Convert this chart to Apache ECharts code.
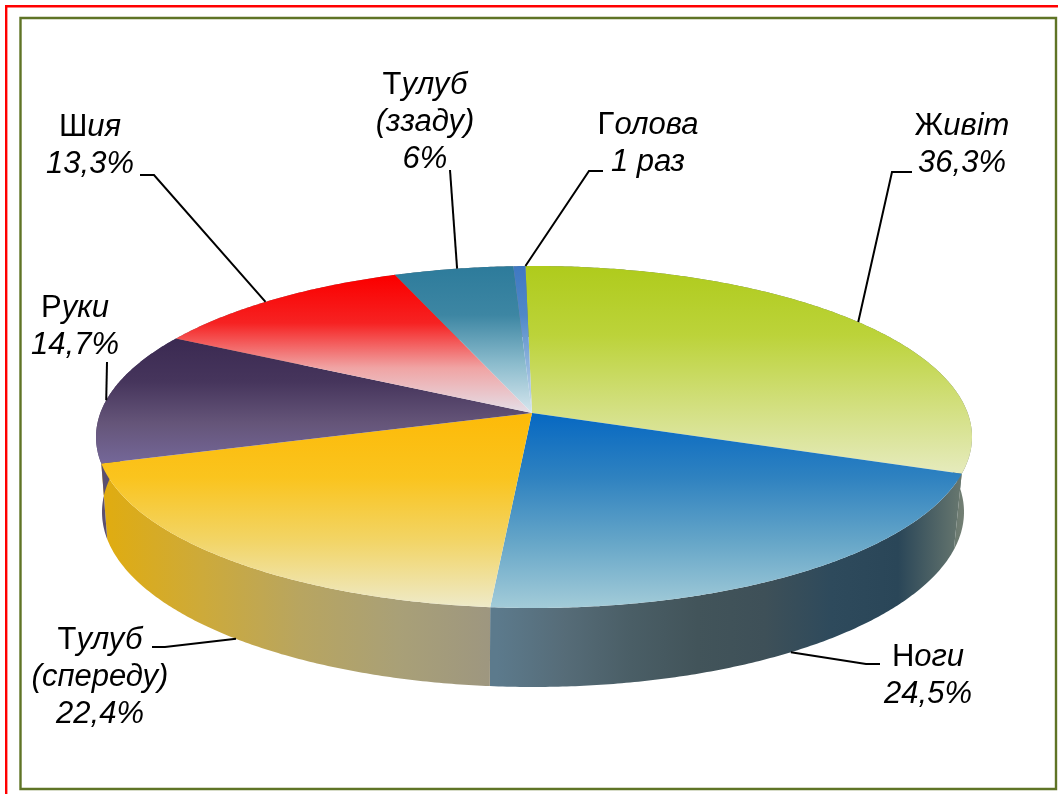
<!DOCTYPE html>
<html><head><meta charset="utf-8">
<style>html,body{margin:0;padding:0;background:#fff}#c{width:1058px;height:794px}</style>
<script src="https://cdn.jsdelivr.net/npm/echarts@6/dist/echarts.min.js"></script>
</head><body><div id="c"></div>
<script>
const categories = ['Живіт','Ноги','Тулуб (спереду)','Руки','Шия','Тулуб (ззаду)','Голова'];
const values = [36.3,24.5,22.4,14.7,13.3,6,0.6];
const labelLines = [
  ['{u|Ж}{i|ивіт}','{i|36,3%}'],
  ['{u|Н}{i|оги}','{i|24,5%}'],
  ['{u|Т}{i|улуб}','{i|(спереду)}','{i|22,4%}'],
  ['{u|Р}{i|уки}','{i|14,7%}'],
  ['{u|Ш}{i|ия}','{i|13,3%}'],
  ['{u|Т}{i|улуб}','{i|(ззаду)}','{i|6%}'],
  ['{u|Г}{i|олова}','{i|1 раз}']
];
const topColors = [
  ['#afcb1c','#bcd33a','#d2df7e','#e6ebbe'],
  ['#0668c2','#2f82c0','#66a6c8','#a2cbd8'],
  ['#fdba08','#fac41e','#f2d568','#eeeac8'],
  ['#3b2a52','#46355c','#655579','#75689a'],
  ['#fb0000','#f62222','#f0a4a4','#e4dfe8'],
  ['#2d7b9b','#3d86a3','#8cbccd','#d6e6ee'],
  ['#3f78c2','#4f88c8','#8fb4dc','#d0e0ee']
];
const wallColors = [
  ['#6b7a70','#7d8578'],
  ['#5c7a8c','#566c78','#4a5e66','#42545a','#3e5058','#2e4a5c','#2a4658','#6b7a70'],
  ['#e0ac10','#cdaa3a','#b8a560','#a9a077','#9d9680'],
  ['#5b4f70','#5b4f70'],['#888','#888'],['#888','#888'],['#888','#888']
];
const wallSpans = [[955,975],[497,965],[105,495],[94,110],[100,300],[300,520],[500,530]];
const topSpans = [[266,475],[413,607],[413,607],[340,465],[278,413],[266,413],[266,413]];
// label centre x, first line y; leader: label side end, elbow; where along the slice the leader lands
const labelPos = [[962,126],[928,657],[100,640],[75,308],[90,127],[425,85],[648,125]];
const leaderEnds = [[[912,172],[892,172]],[[880,664],[866,664]],[[152,647],[165,647]],[[107,362],[107,362]],[[140,175],[154,175]],[[450,170],[450,170]],[[603,171],[589,171]]];
const leaderFrac = [0.5,0.5,0.49,0.47,0.46,0.53,1];
const startDeg = -1;
const apex = [532,413];
const topE = {cx:534,cy:437,rx:438,ry:171};
const botE = {cx:533,cy:512,rx:431,ry:175};

const total = values.reduce((a,b)=>a+b,0);
const angles = []; let acc = startDeg;
values.forEach(v=>{const a=acc; acc+=v/total*360; angles.push([a,acc]);});

function edge(deg){
  const t=deg*Math.PI/180, dx=Math.sin(t), dy=-Math.cos(t);
  const px=(apex[0]-topE.cx)/topE.rx, py=(apex[1]-topE.cy)/topE.ry;
  const b=px*dx+py*dy, r=-b+Math.sqrt(b*b-px*px-py*py+1);
  return [px+r*dx, py+r*dy];
}
const onE=(e,n)=>[e.cx+e.rx*n[0], e.cy+e.ry*n[1]];
function arc(a0,a1){const pts=[],n=Math.max(2,Math.ceil(Math.abs(a1-a0)*2));
  for(let i=0;i<=n;i++)pts.push(edge(a0+(a1-a0)*i/n));return pts;}
function stops(cs){return cs.map((c,i)=>({offset:i/(cs.length-1),color:c}));}

function renderWall(p,api){
  const i=p.dataIndex, pts=arc(angles[i][0],angles[i][1]);
  const poly=pts.map(n=>onE(topE,n)).concat(pts.slice().reverse().map(n=>onE(botE,n)));
  const s=wallSpans[i];
  return {type:'polygon',shape:{points:poly},style:{fill:{type:'linear',x:s[0],y:0,x2:s[1],y2:0,global:true,colorStops:stops(wallColors[i])}}};
}
function renderTop(p,api){
  const i=p.dataIndex, pts=arc(angles[i][0],angles[i][1]).map(n=>onE(topE,n));
  const s=topSpans[i];
  return {type:'polygon',shape:{points:[apex].concat(pts)},style:{fill:{type:'linear',x:0,y:s[0],x2:0,y2:s[1],global:true,colorStops:stops(topColors[i])}}};
}
function anchor(i){
  const mid=angles[i][0]+(angles[i][1]-angles[i][0])*leaderFrac[i], n=edge(mid);
  const front = (i===1||i===2);
  return onE(front?botE:topE,n);
}
function renderLabel(p,api){
  const i=p.dataIndex, a=anchor(i), e=leaderEnds[i], pos=labelPos[i];
  return {type:'group',children:[
    {type:'polyline',shape:{points:[e[0],e[1],a]},style:{fill:'none',stroke:'#000',lineWidth:2}},
    {type:'text',style:{x:pos[0],y:pos[1]-18,text:labelLines[i].join('\n'),align:'center',verticalAlign:'top',
      rich:{u:{fontFamily:'Liberation Sans',fontSize:31,lineHeight:37,fill:'#000',color:'#000'},
            i:{fontFamily:'Liberation Sans',fontStyle:'italic',fontSize:31,lineHeight:37,fill:'#000',color:'#000'}}}}
  ]};
}
const data=values.map((v,i)=>({name:categories[i],value:[i,v]}));
const chart=echarts.init(document.getElementById('c'),null,{renderer:'canvas'});
chart.setOption({
  animation:false,backgroundColor:'#fff',
  graphic:[
    {type:'rect',shape:{x:6.2,y:6.2,width:1200,height:1000},style:{fill:'none',stroke:'#ff0000',lineWidth:2.4},silent:true},
    {type:'rect',shape:{x:20.5,y:18,width:1035.5,height:771},style:{fill:'none',stroke:'#5f7426',lineWidth:2.4},silent:true}
  ],
  series:[
    {type:'custom',coordinateSystem:'none',renderItem:renderWall,data,silent:true,z:2},
    {type:'custom',coordinateSystem:'none',renderItem:renderTop,data,silent:true,z:3},
    {type:'custom',coordinateSystem:'none',renderItem:renderLabel,data,silent:true,z:4}
  ]
});
</script></body></html>
